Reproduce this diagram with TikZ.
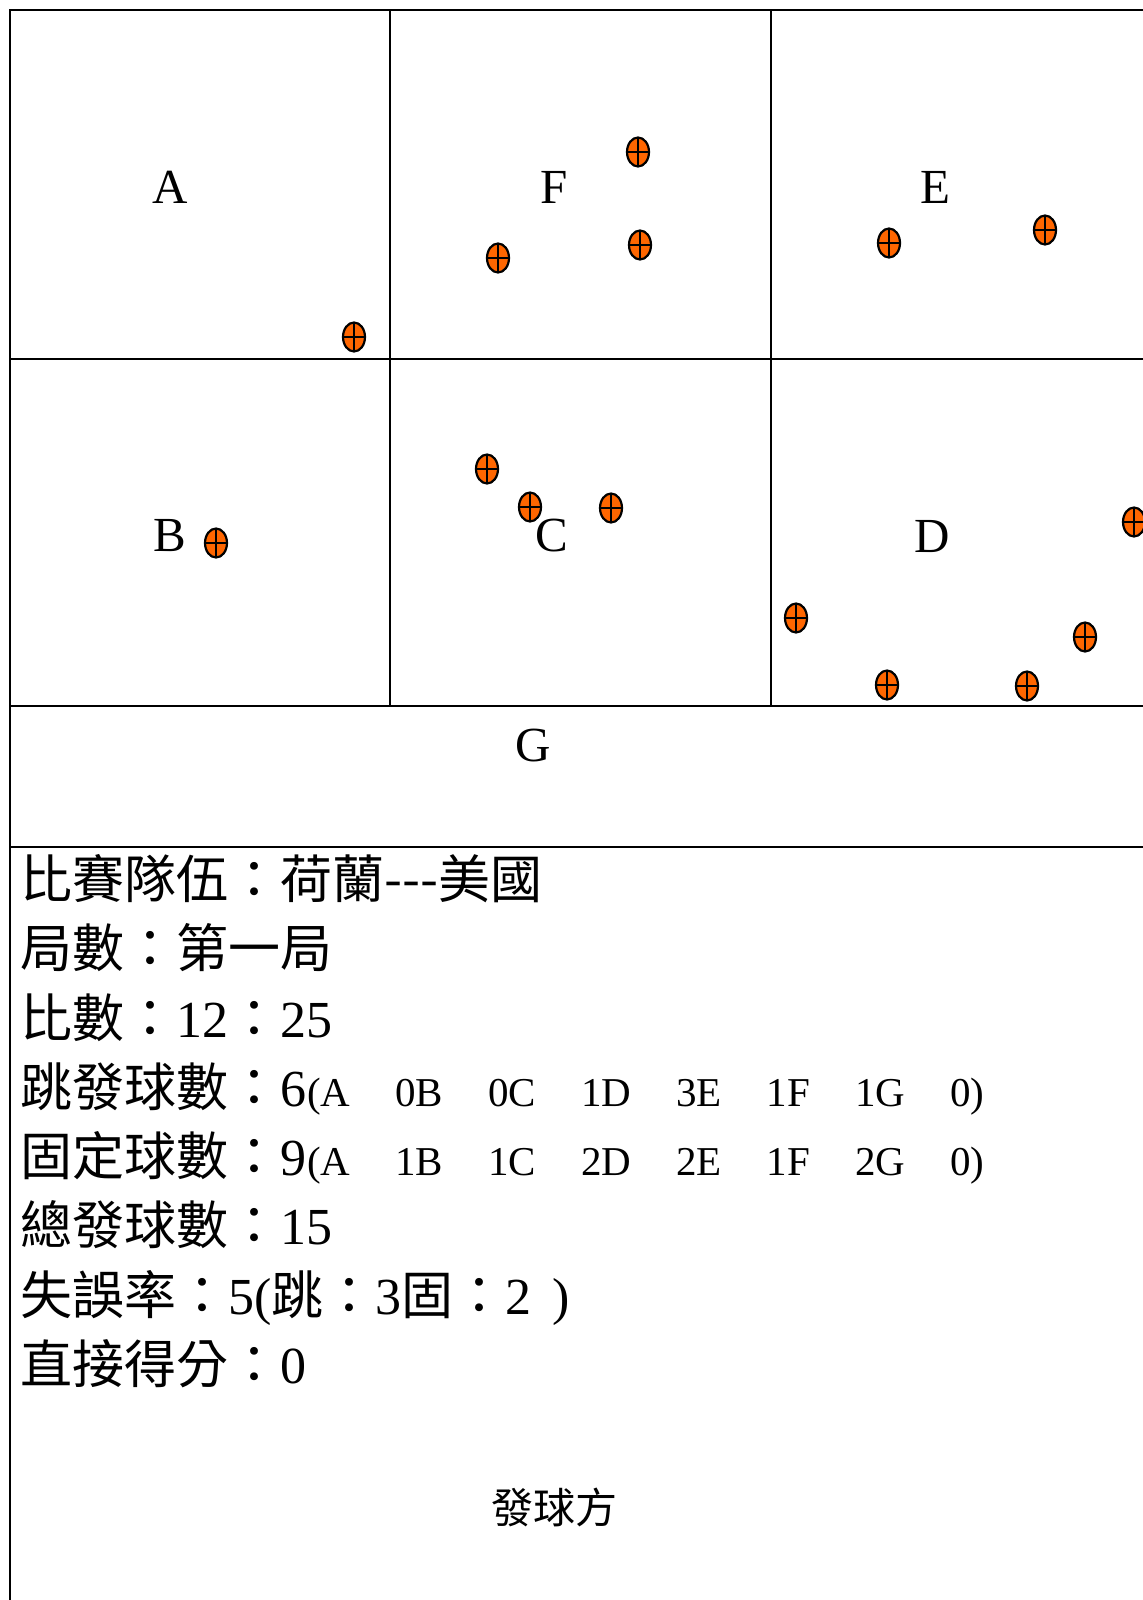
\documentclass[tikz,border=0pt]{standalone}
\usepackage{fontspec}
\setmainfont{Liberation Serif}
\newfontfamily\cjk{Noto Sans CJK TC}
\usetikzlibrary{shapes.geometric, positioning}

\definecolor{ballorange}{HTML}{FF6600}
\newcommand{\zh}[1]{{\cjk #1}}
\newcommand{\gapx}{\hspace{22.5pt}}

\begin{document}
\begin{tikzpicture}[
    x=0.5pt, y=-0.5pt,
    court/.style={line width=1.4pt},
    zone/.style={font=\fontsize{24.5}{28}\selectfont, inner sep=0pt},
    ball/.style={draw, ellipse, fill=ballorange, line width=1.1pt, minimum width=11pt, minimum height=14.5pt, inner sep=0pt,
        path picture={\draw[line width=0.9pt] (path picture bounding box.north) -- (path picture bounding box.south)
            (path picture bounding box.west) -- (path picture bounding box.east);}},
    stat/.style={anchor=base west, inner sep=0pt, font=\fontsize{26}{30}\selectfont},
    detail/.style={font=\fontsize{20.5}{24}\selectfont}
]
\useasboundingbox (0,0) rectangle (1143,1600);

% court grid
\draw[court] (10,1600) -- (10,10) -- (1143,10);
\draw[court] (10,359) -- (1143,359);
\draw[court] (10,706) -- (1143,706);
\draw[court] (10,847) -- (1143,847);
\draw[court] (390,10) -- (390,706);
\draw[court] (771,10) -- (771,706);

% zone letters
\node[zone] (zoneA) at (170,187) {A};
\node[zone] (zoneF) at (554,187) {F};
\node[zone] (zoneE) at (935,187) {E};
\node[zone] (zoneB) at (170,536) {B};
\node[zone] (zoneC) at (552,536) {C};
\node[zone] (zoneD) at (932,536) {D};
\node[zone] (zoneG) at (533,746) {G};

% serve landing points
\node[ball] (a1) at (354,337) {};
\node[ball] (f1) at (638,152) {};
\node[ball] (f2) at (640,245) {};
\node[ball] (f3) at (498,258) {};
\node[ball] (e1) at (889,243) {};
\node[ball] (e2) at (1045,230) {};
\node[ball] (b1) at (216,543) {};
\node[ball] (c1) at (487,469) {};
\node[ball] (c2) at (530,507) {};
\node[ball] (c3) at (611,508) {};
\node[ball] (d1) at (1134,522) {};
\node[ball] (d2) at (796,618) {};
\node[ball] (d3) at (1085,637) {};
\node[ball] (d4) at (887,685) {};
\node[ball] (d5) at (1027,686) {};

% statistics
\node[stat] (teams) at (20,898) {\zh{比賽隊伍：荷蘭-{}-{}-美國}};
\node[stat] (set) at (20,967) {\zh{局數：第一局}};
\node[stat] (score) at (20,1037) {\zh{比數：}12\zh{：}25};
\node[stat] (jump) at (20,1106) {\zh{跳發球數：}6};
\node[stat] (float) at (20,1175) {\zh{固定球數：}9};
\node[stat] (total) at (20,1244) {\zh{總發球數：}15};
\node[stat] (errors) at (20,1314) {\zh{失誤率：}5(\zh{跳：}3\zh{固：}2\hspace{4pt} )};
\node[stat] (direct) at (20,1383) {\zh{直接得分：}0};
\node[detail, anchor=base west, inner sep=0pt] (jumpzones) at (jump.base east) {(A\gapx 0B\gapx 0C\gapx 1D\gapx 3E\gapx 1F\gapx 1G\gapx 0)};
\node[detail, anchor=base west, inner sep=0pt] (floatzones) at (float.base east) {(A\gapx 1B\gapx 1C\gapx 2D\gapx 2E\gapx 1F\gapx 2G\gapx 0)};

\node[font=\cjk\fontsize{21}{24}\selectfont] (server) at (554,1507) {發球方};
\end{tikzpicture}
\end{document}
